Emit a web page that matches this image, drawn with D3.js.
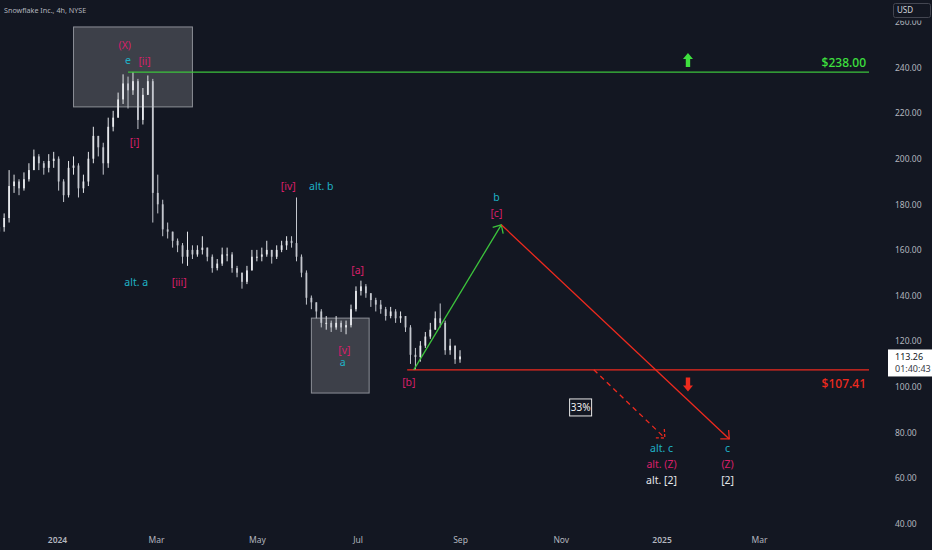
<!DOCTYPE html>
<html>
<head>
<meta charset="utf-8">
<script src="https://cdn.jsdelivr.net/npm/d3@7"></script>
<style>
  html, body { margin: 0; padding: 0; background: #131722; }
  svg { display: block; }
</style>
</head>
<body>
<div id="chart"></div>
<script>
const candleDates = [
  "2023-11-27","2023-11-30","2023-12-03","2023-12-06","2023-12-09","2023-12-12","2023-12-15","2023-12-18","2023-12-21","2023-12-24","2023-12-27","2023-12-30",
  "2024-01-02","2024-01-05","2024-01-08","2024-01-11","2024-01-14","2024-01-17","2024-01-20","2024-01-23","2024-01-26","2024-01-29",
  "2024-02-01","2024-02-04","2024-02-07","2024-02-10","2024-02-13","2024-02-16","2024-02-19","2024-02-22","2024-02-25","2024-02-28",
  "2024-03-02","2024-03-05","2024-03-08","2024-03-11","2024-03-14","2024-03-17","2024-03-20","2024-03-23","2024-03-26","2024-03-29",
  "2024-04-01","2024-04-04","2024-04-07","2024-04-10","2024-04-13","2024-04-16","2024-04-19","2024-04-22","2024-04-25","2024-04-28",
  "2024-05-01","2024-05-04","2024-05-07","2024-05-10","2024-05-13","2024-05-16","2024-05-19","2024-05-22","2024-05-25","2024-05-28","2024-05-31",
  "2024-06-03","2024-06-06","2024-06-09","2024-06-12","2024-06-15","2024-06-18","2024-06-21","2024-06-24","2024-06-27","2024-06-30",
  "2024-07-03","2024-07-06","2024-07-09","2024-07-12","2024-07-15","2024-07-18","2024-07-21","2024-07-24","2024-07-27","2024-07-30",
  "2024-08-02","2024-08-05","2024-08-08","2024-08-11","2024-08-14","2024-08-17","2024-08-20","2024-08-23","2024-08-26","2024-08-29","2024-09-01"
];
const firstOpen = 168;
const closes = [
  170, 174, 188, 190, 187, 191, 195, 201, 198, 196, 199, 200,
  190, 184, 196, 197, 187, 190, 200, 210, 205, 198,
  214, 218, 226, 233, 230, 234, 217, 228, 234, 185,
  180, 169, 168, 164, 162, 157, 160, 158, 160, 161,
  157, 152, 154, 158, 158, 152, 150, 146, 151, 157,
  157, 158, 160, 157, 160, 162, 164, 163, 157, 150, 139,
  137, 133, 128, 128, 126, 128, 126, 127, 134, 142,
  144, 141, 138, 136, 134, 131, 133, 130, 131, 126,
  114, 113, 118, 122, 125, 130, 128, 116, 118, 112, 113.26
];
const highs = [
  172, 176, 195, 193, 191, 194, 198, 204, 202, 199, 202, 203,
  201, 191, 199, 201, 198, 193, 203, 214, 210, 207,
  218, 221, 229, 237, 236, 238, 235, 231, 236.5, 235,
  193, 182, 172, 168, 165, 163, 168, 162, 162, 166,
  161, 158, 156, 161, 161, 159, 153, 150, 153, 160,
  160, 161, 164, 160, 162, 164, 166, 166, 183, 158, 151,
  140, 137, 134, 131, 129, 131, 129, 129, 136, 144,
  146.5, 145, 141, 139, 138, 135, 135, 134, 133, 131,
  127, 117, 120, 124, 128, 133, 136.5, 129, 121, 118, 116
];
const lows = [
  166, 168, 172, 185, 184, 186, 190, 195, 195, 193, 194, 196,
  186, 181, 183, 193, 183, 185, 188, 198, 201, 193,
  196, 212, 218, 224, 222, 228, 213, 215, 228, 172,
  176, 166, 165, 161, 159, 154, 153, 156, 157, 158,
  155, 150, 151, 153, 155, 150, 148, 143, 145, 151,
  155, 155, 157, 154, 156, 159, 160, 161, 155, 148, 136,
  134, 130, 126, 125, 124, 125, 124, 123, 126, 133,
  140, 139, 135, 133, 132, 129, 130, 128, 128, 124,
  110, 107.4, 111, 117, 121, 125, 126, 114, 114, 110, 110.5
];
const lastPrice = 113.26;
const countdown = "01:40:43";

// axes
const priceTicks = [260, 240, 220, 200, 180, 160, 140, 120, 100, 80, 60, 40];
const timeTicks = ["2024-01-01","2024-03-01","2024-05-01","2024-07-01","2024-09-01","2024-11-01","2025-01-01","2025-03-01"];
const timeTickLabels = ["2024","Mar","May","Jul","Sep","Nov","2025","Mar"];

// levels
const resistance = 238.00;
const resistanceFrom = "2024-02-13";
const support = 107.41;
const supportFrom = "2024-07-31";

// shaded zones: [from, to, top price, bottom price]
const zones = [
  ["2024-01-11", "2024-03-23", 257.8, 222.7],
  ["2024-06-03", "2024-07-08", 130.1, 97.2]
];

// projected path (green up leg then red down leg) and alternative dashed leg
const projection = [["2024-08-04", 107.41], ["2024-09-26", 171.0], ["2025-02-11", 77.1]];
const altProjection = [["2024-11-21", 107.41], ["2025-01-03", 77.5]];

// wave labels: [date, price, text, tone]
const waveLabels = [
  ["2024-02-11", 249.9, "(X)", "pink"],
  ["2024-02-13", 243.2, "e", "cyan"],
  ["2024-02-23", 242.9, "[ii]", "pink"],
  ["2024-02-17", 207.0, "[i]", "pink"],
  ["2024-02-18", 145.8, "alt. a", "cyan"],
  ["2024-03-15", 145.8, "[iii]", "pink"],
  ["2024-05-20", 187.7, "[iv]", "pink"],
  ["2024-06-09", 188.0, "alt. b", "cyan"],
  ["2024-07-01", 151.2, "[a]", "pink"],
  ["2024-06-23", 116.1, "[v]", "pink"],
  ["2024-06-22", 110.5, "a", "cyan"],
  ["2024-08-01", 101.9, "[b]", "pink"],
  ["2024-09-23", 183.1, "b", "cyan"],
  ["2024-09-23", 176.1, "[c]", "pink"],
  ["2025-01-01", 73.0, "alt. c", "cyan"],
  ["2025-01-01", 66.1, "alt. (Z)", "pink"],
  ["2025-01-01", 58.8, "alt. [2]", "white"],
  ["2025-02-10", 73.0, "c", "cyan"],
  ["2025-02-10", 66.1, "(Z)", "pink"],
  ["2025-02-10", 58.8, "[2]", "white"]
];
const probability = ["2024-11-13", 90.9, "33%"];
const signalArrows = [["2025-01-17", 243.3, "up"], ["2025-01-17", 101.0, "down"]];

// ---------------------------------------------------------------
const W = 932, H = 550;
const plotW = 870, plotH = 527;
const FONT = "'Noto Sans', 'DejaVu Sans', sans-serif";
const COLORS = {
  bg: "#131722",
  axisText: "#b2b5be",
  candleUp: "#e6e8ec",
  candleDown: "#c4c7ce",
  green: "#3cc43c",
  greenText: "#3ee03e",
  red: "#ee2a1e",
  pink: "#d81f69",
  cyan: "#1fb2c6",
  white: "#e4e6ea"
};

const parse = d3.timeParse("%Y-%m-%d");

const x = d3.scaleTime()
  .domain([parse("2024-01-01"), parse("2025-03-01")])
  .range([57, 759]);
const y = d3.scaleLinear()
  .domain([40, 240])
  .range([523.5, 67.5]);

const candles = candleDates.map((d, i) => ({
  date: parse(d),
  open: i === 0 ? firstOpen : closes[i - 1],
  close: closes[i],
  high: highs[i],
  low: lows[i]
}));

const svg = d3.select("#chart")
  .append("svg")
  .attr("width", W)
  .attr("height", H)
  .style("background", COLORS.bg);

const defs = svg.append("defs");
defs.append("clipPath").attr("id", "plot-clip")
  .append("rect").attr("width", plotW).attr("height", plotH);
defs.append("clipPath").attr("id", "axis-clip")
  .append("rect").attr("x", plotW).attr("y", 20.5).attr("width", W - plotW).attr("height", plotH - 20.5);

const plot = svg.append("g").attr("clip-path", "url(#plot-clip)");

// Shaded zones
plot.selectAll("rect.zone")
  .data(zones)
  .enter()
  .append("rect")
  .attr("class", "zone")
  .attr("x", (d) => x(parse(d[0])))
  .attr("y", (d) => y(d[2]))
  .attr("width", (d) => x(parse(d[1])) - x(parse(d[0])))
  .attr("height", (d) => y(d[3]) - y(d[2]))
  .attr("fill", "rgba(255,255,255,0.18)")
  .attr("stroke", "rgba(220,222,228,0.55)")
  .attr("stroke-width", 1);

// Candles
const bodyW = 1.8;
const cg = plot.append("g");
cg.selectAll("line.wick")
  .data(candles)
  .enter()
  .append("line")
  .attr("x1", (d) => x(d.date))
  .attr("x2", (d) => x(d.date))
  .attr("y1", (d) => y(Math.max(d.high, d.open, d.close)))
  .attr("y2", (d) => y(Math.min(d.low, d.open, d.close)))
  .attr("stroke", (d) => (d.close >= d.open ? COLORS.candleUp : COLORS.candleDown))
  .attr("stroke-width", 1);
cg.selectAll("rect.body")
  .data(candles)
  .enter()
  .append("rect")
  .attr("x", (d) => x(d.date) - bodyW / 2)
  .attr("y", (d) => y(Math.max(d.open, d.close)))
  .attr("width", bodyW)
  .attr("height", (d) => Math.max(1, Math.abs(y(d.open) - y(d.close))))
  .attr("fill", (d) => (d.close >= d.open ? COLORS.candleUp : COLORS.candleDown));

// Horizontal levels
plot.append("line")
  .attr("x1", x(parse(resistanceFrom)))
  .attr("x2", plotW - 1)
  .attr("y1", y(resistance))
  .attr("y2", y(resistance))
  .attr("stroke", COLORS.green)
  .attr("stroke-width", 1.3);
plot.append("line")
  .attr("x1", x(parse(supportFrom)))
  .attr("x2", plotW - 1)
  .attr("y1", y(support))
  .attr("y2", y(support))
  .attr("stroke", COLORS.red)
  .attr("stroke-width", 1.3);

plot.append("text")
  .attr("x", plotW - 4)
  .attr("y", y(resistance) - 9)
  .attr("dy", "0.35em")
  .attr("text-anchor", "end")
  .attr("font-family", FONT)
  .attr("font-size", "12px")
  .attr("font-weight", 500)
  .attr("fill", COLORS.greenText)
  .text(`$${resistance.toFixed(2)}`);
plot.append("text")
  .attr("x", plotW - 4)
  .attr("y", y(support) + 14)
  .attr("dy", "0.35em")
  .attr("text-anchor", "end")
  .attr("font-family", FONT)
  .attr("font-size", "12px")
  .attr("font-weight", 500)
  .attr("fill", COLORS.red)
  .text(`$${support.toFixed(2)}`);

// Arrow helper: open V head at the end of a segment
const arrowHead = (g, p0, p1, color, dash) => {
  const ang = Math.atan2(p1[1] - p0[1], p1[0] - p0[0]);
  const len = 9, spread = Math.PI / 4.2;
  const a1 = [p1[0] - len * Math.cos(ang - spread), p1[1] - len * Math.sin(ang - spread)];
  const a2 = [p1[0] - len * Math.cos(ang + spread), p1[1] - len * Math.sin(ang + spread)];
  g.append("path")
    .attr("d", d3.line()([a1, p1, a2]))
    .attr("fill", "none")
    .attr("stroke", color)
    .attr("stroke-width", 1.3)
    .attr("stroke-dasharray", dash || null);
};

const proj = projection.map((d) => [x(parse(d[0])), y(d[1])]);
plot.append("line")
  .attr("x1", proj[0][0]).attr("y1", proj[0][1])
  .attr("x2", proj[1][0]).attr("y2", proj[1][1])
  .attr("stroke", COLORS.green)
  .attr("stroke-width", 1.3);
arrowHead(plot, proj[0], proj[1], COLORS.green);
plot.append("line")
  .attr("x1", proj[1][0]).attr("y1", proj[1][1])
  .attr("x2", proj[2][0]).attr("y2", proj[2][1])
  .attr("stroke", COLORS.red)
  .attr("stroke-width", 1.3);
arrowHead(plot, proj[1], proj[2], COLORS.red);

const alt = altProjection.map((d) => [x(parse(d[0])), y(d[1])]);
plot.append("line")
  .attr("x1", alt[0][0]).attr("y1", alt[0][1])
  .attr("x2", alt[1][0]).attr("y2", alt[1][1])
  .attr("stroke", COLORS.red)
  .attr("stroke-width", 1.3)
  .attr("stroke-dasharray", "5,4");
arrowHead(plot, alt[0], alt[1], COLORS.red, "3,2");

// Up / down signal arrows
plot.selectAll("path.signal")
  .data(signalArrows)
  .enter()
  .append("path")
  .attr("class", "signal")
  .attr("transform", (d) => `translate(${x(parse(d[0]))},${y(d[1])})${d[2] === "down" ? " rotate(180)" : ""}`)
  .attr("d", "M0,-7 L5,-1 L2.2,-1 L2.2,7 L-2.2,7 L-2.2,-1 L-5,-1 Z")
  .attr("fill", (d) => (d[2] === "up" ? COLORS.greenText : COLORS.red));

// Wave labels
plot.selectAll("text.wave")
  .data(waveLabels)
  .enter()
  .append("text")
  .attr("class", "wave")
  .attr("x", (d) => x(parse(d[0])))
  .attr("y", (d) => y(d[1]))
  .attr("dy", "0.35em")
  .attr("text-anchor", "middle")
  .attr("font-family", FONT)
  .attr("font-size", "10.5px")
  .attr("fill", (d) => COLORS[d[3]])
  .text((d) => d[2]);

// Probability tag
const probG = plot.append("g")
  .attr("transform", `translate(${x(parse(probability[0]))},${y(probability[1])})`);
probG.append("rect")
  .attr("x", -11).attr("y", -8.5)
  .attr("width", 22).attr("height", 17)
  .attr("fill", COLORS.bg)
  .attr("stroke", "#e8e8e8")
  .attr("stroke-width", 1);
probG.append("text")
  .attr("text-anchor", "middle")
  .attr("dy", "0.35em")
  .attr("font-family", FONT)
  .attr("font-size", "10px")
  .attr("fill", "#f0f0f0")
  .text(probability[2]);

// Title
svg.append("text")
  .attr("x", 4)
  .attr("y", 10)
  .attr("dy", "0.35em")
  .attr("font-family", FONT)
  .attr("font-size", "7.2px")
  .attr("fill", COLORS.axisText)
  .text("Snowflake Inc., 4h, NYSE");

// Price axis (right)
const yAxis = d3.axisRight(y)
  .tickValues(priceTicks)
  .tickFormat(d3.format(".2f"))
  .tickSize(0)
  .tickPadding(3);
const yAxisG = svg.append("g")
  .attr("clip-path", "url(#axis-clip)")
  .append("g")
  .attr("transform", `translate(892,0)`)
  .call(yAxis);
yAxisG.select(".domain").remove();
yAxisG.selectAll("text")
  .attr("font-family", FONT)
  .attr("font-size", "8.5px")
  .attr("fill", COLORS.axisText);

// USD badge
svg.append("rect")
  .attr("x", 893.5).attr("y", 3.5)
  .attr("width", 37).attr("height", 14)
  .attr("rx", 2)
  .attr("fill", COLORS.bg)
  .attr("stroke", "#434651");
svg.append("text")
  .attr("x", 897).attr("y", 10.5)
  .attr("dy", "0.35em")
  .attr("font-family", FONT)
  .attr("font-size", "8px")
  .attr("fill", "#d1d4dc")
  .text("USD");

// Last price tag
const tagY = y(lastPrice);
svg.append("rect")
  .attr("x", 888).attr("y", tagY - 7)
  .attr("width", 44).attr("height", 27)
  .attr("fill", "#ffffff");
svg.append("text")
  .attr("x", 895).attr("y", tagY)
  .attr("dy", "0.35em")
  .attr("font-family", FONT)
  .attr("font-size", "9px")
  .attr("fill", "#131722")
  .text(lastPrice.toFixed(2));
svg.append("text")
  .attr("x", 895).attr("y", tagY + 12.5)
  .attr("dy", "0.35em")
  .attr("font-family", FONT)
  .attr("font-size", "9px")
  .attr("fill", "#363a45")
  .text(countdown);

// Time axis (bottom)
const xAxis = d3.axisBottom(x)
  .tickValues(timeTicks.map(parse))
  .tickFormat((d, i) => timeTickLabels[i])
  .tickSize(0)
  .tickPadding(0);
const xAxisG = svg.append("g")
  .attr("transform", `translate(0,${plotH + 10})`)
  .call(xAxis);
xAxisG.select(".domain").remove();
xAxisG.selectAll("text")
  .attr("font-family", FONT)
  .attr("font-size", "8.5px")
  .attr("font-weight", (d, i) => (/^\d{4}$/.test(timeTickLabels[i]) ? 600 : 400))
  .attr("fill", COLORS.axisText);
</script>
</body>
</html>
